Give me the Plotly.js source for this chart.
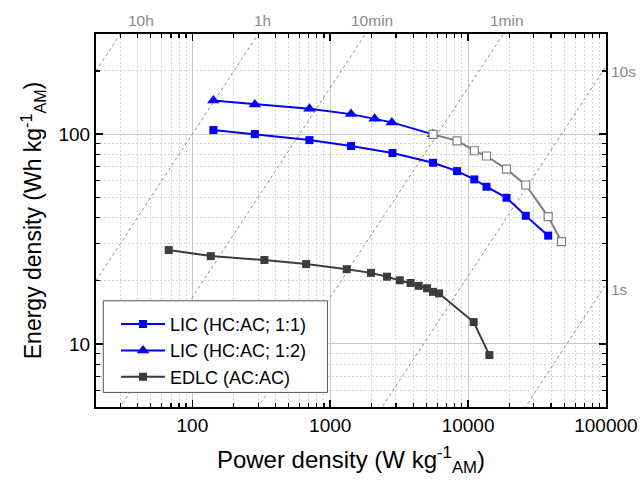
<!DOCTYPE html>
<html><head><meta charset="utf-8">
<script src="https://cdn.plot.ly/plotly-3.0.1.min.js"></script>
<style>html,body{margin:0;padding:0;background:#fff}#chart{width:643px;height:488px}</style>
</head><body><div id="chart"></div>
<script>
// ---- data ----
const seriesNames = ['LIC (HC:AC; 1:1)', 'LIC (HC:AC; 1:2)', 'EDLC (AC:AC)'];
const lic11Power  = [142, 284, 707, 1416, 2830, 5570, 8320, 11100, 13600, 19000, 26200, 38100];
const lic11Energy = [104.5, 100, 93.6, 87.7, 81.2, 73.0, 66.6, 60.8, 56.1, 49.7, 40.8, 32.8];
const lic12Power  = [142, 284, 707, 1416, 2100, 2800, 5570];
const lic12Energy = [144.4, 138.5, 132, 124.5, 118.3, 113.7, 99.7];
const lic12HighPower  = [5570, 8320, 11100, 13600, 19000, 26200, 38100, 47600];
const lic12HighEnergy = [99.7, 92.9, 83.3, 78.6, 68.1, 57.2, 40.4, 30.7];
const edlcPower  = [67.4, 136, 333, 669, 1318, 1975, 2581, 3197, 3831, 4379, 5040, 5570, 6160, 10980, 14280];
const edlcEnergy = [28.0, 26.2, 25.1, 24.0, 22.7, 21.8, 20.9, 20.1, 19.5, 18.9, 18.4, 17.7, 17.4, 12.7, 8.84];
const timeLabels = ['10h', '1h', '10min', '1min', '10s', '1s'];
const timeHours  = [10, 1, 0.1667, 0.01667, 0.00210, 0.000192];
const xTickVals = [100, 1000, 10000, 100000];
const yTickVals = [10, 100];

const FONT = 'Arial, "Liberation Sans", sans-serif';
const xRange = [20, 100000];
const yRange = [5, 300];

const traces = [];
// constant-time guide lines
timeHours.forEach((t) => {
  traces.push({
    x: xRange, y: xRange.map(p => p * t), mode: 'lines', type: 'scatter',
    line: {color: '#8c8c8c', width: 1, dash: '3px,3px'}, showlegend: false, hoverinfo: 'skip'
  });
});
traces.push({
  x: lic11Power, y: lic11Energy, name: seriesNames[0], mode: 'lines+markers', type: 'scatter',
  line: {color: '#0000ff', width: 2}, marker: {symbol: 'square', size: 8, color: '#0000ff'}
});
traces.push({
  x: lic12Power, y: lic12Energy, name: seriesNames[1], mode: 'lines+markers', type: 'scatter',
  line: {color: '#0000ff', width: 2}, marker: {symbol: 'triangle-up', size: 11, color: '#0000ff'}
});
traces.push({
  x: lic12HighPower, y: lic12HighEnergy, name: seriesNames[1], mode: 'lines+markers', type: 'scatter',
  showlegend: false,
  line: {color: '#808080', width: 2}, marker: {symbol: 'square', size: 8, color: '#ffffff', line: {color: '#808080', width: 1.2}}
});
traces.push({
  x: edlcPower, y: edlcEnergy, name: seriesNames[2], mode: 'lines+markers', type: 'scatter',
  line: {color: '#3c3c3c', width: 2}, marker: {symbol: 'square', size: 8, color: '#3c3c3c'}
});

const L = 96, R = 605.7, T = 34, B = 407.3;
const px = (x) => (x - L) / (R - L);
const py = (y) => (B - y) / (B - T);
const labelPos = [
  {x: 141, y: 20.7, xa: 'center'},
  {x: 262, y: 20.7, xa: 'center'},
  {x: 372, y: 20.7, xa: 'center'},
  {x: 507, y: 20.7, xa: 'center'},
  {x: 609, y: 71.5, xa: 'left'},
  {x: 609, y: 290, xa: 'left'}
];
const annotations = timeLabels.map((txt, i) => ({
  text: txt, xref: 'paper', yref: 'paper', x: px(labelPos[i].x), y: py(labelPos[i].y),
  xanchor: labelPos[i].xa, yanchor: 'middle', showarrow: false,
  font: {family: FONT, size: 15.5, color: '#8a8a8a'}
}));

const axisCommon = {
  type: 'log', showline: true, linecolor: '#000', linewidth: 2, mirror: 'allticks',
  ticks: 'inside', ticklen: 7, tickwidth: 1.5, tickcolor: '#000',
  showgrid: true, gridcolor: '#c8c8c8', gridwidth: 1, zeroline: false,
  tickfont: {family: FONT, size: 19, color: '#000'},
  tickmode: 'array',
  minor: {tickmode: 'linear', dtick: 'D1', ticks: 'inside', ticklen: 4, tickwidth: 1.2, tickcolor: '#000',
          showgrid: true, gridcolor: '#d4d4d4', griddash: '2px,2px', gridwidth: 1}
};

const layout = {
  width: 643, height: 488,
  margin: {l: L, r: 643 - R, t: T, b: 488 - B},
  paper_bgcolor: '#fff', plot_bgcolor: '#fff',
  font: {family: FONT, color: '#000'},
  showlegend: true,
  xaxis: Object.assign({}, axisCommon, {
    range: [Math.log10(xRange[0]), Math.log10(xRange[1]) + 0.0005],
    tickvals: xTickVals, ticktext: xTickVals.map(String),
    title: {text: 'Power density (W kg<sup>-1</sup><sub>AM</sub>)', font: {family: FONT, size: 24}, standoff: 16}
  }),
  yaxis: Object.assign({}, axisCommon, {
    range: [Math.log10(yRange[0]), Math.log10(yRange[1])],
    tickvals: yTickVals, ticktext: yTickVals.map(String),
    title: {text: 'Energy density (Wh kg<sup>-1</sup><sub>AM</sub>)', font: {family: FONT, size: 23}, standoff: 10}
  }),
  shapes: [{
    type: 'rect', xref: 'paper', yref: 'paper', layer: 'above',
    x0: px(103.3), x1: px(327.3), y0: py(392.7), y1: py(301),
    fillcolor: '#ffffff', line: {color: '#555555', width: 1}
  }],
  legend: {
    x: px(116), y: py(306), xanchor: 'left', yanchor: 'top',
    bgcolor: 'rgba(0,0,0,0)', borderwidth: 0,
    font: {family: FONT, size: 18, color: '#000'}, itemwidth: 44, tracegroupgap: 0
  },
  annotations: annotations
};

Plotly.newPlot('chart', traces, layout, {displayModeBar: false, staticPlot: true});
</script>
</body></html>
